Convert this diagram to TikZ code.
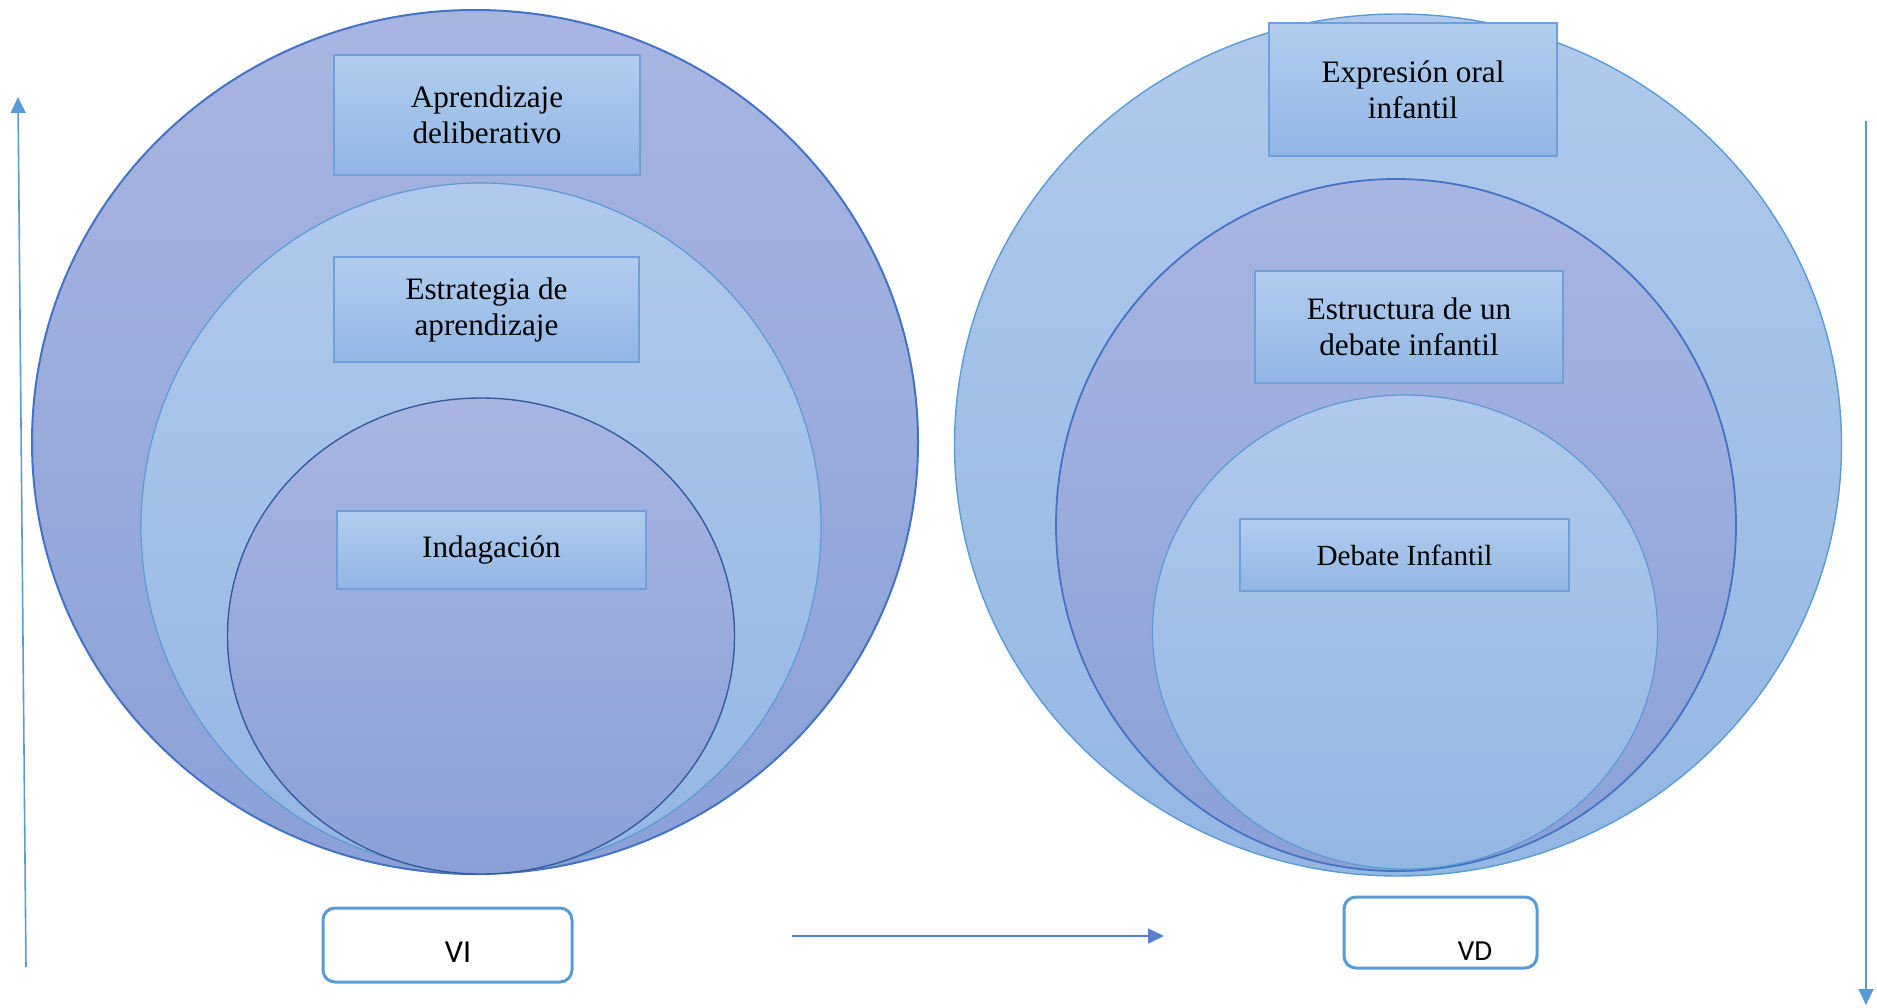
\documentclass[tikz,border=0pt]{standalone}
\usepackage{fontspec}
\setmainfont{Liberation Serif}
\newfontfamily\calfont{Carlito}
\usetikzlibrary{shapes.geometric,arrows.meta}
\definecolor{lavtop}{HTML}{A9B5E1}
\definecolor{lavbot}{HTML}{8AA0D7}
\definecolor{lbtop}{HTML}{B0C9EB}
\definecolor{lbbot}{HTML}{93B7E3}
\definecolor{boxtop}{HTML}{B2CDEE}
\definecolor{boxbot}{HTML}{91B6E5}
\definecolor{boxline}{HTML}{6FA0DA}
\definecolor{darkline}{HTML}{4472C4}
\definecolor{lightline}{HTML}{5B9BD5}
\tikzset{
  ring/.style={ellipse, inner sep=0pt},
  lav/.style={ring, top color=lavtop, bottom color=lavbot},
  lb/.style={ring, top color=lbtop, bottom color=lbbot},
  conceptbox/.style={rectangle, inner sep=0pt, top color=boxtop, bottom color=boxbot,
    draw=boxline, line width=0.8pt, align=center,
    font=\fontsize{15.6pt}{18pt}\selectfont},
  varbox/.style={rectangle, rounded corners=6pt, draw=lightline, line width=1.5pt, fill=white, inner sep=0pt},
  varlabel/.style={font=\calfont\fontsize{16pt}{18pt}\selectfont, inner sep=0pt},
  axis/.style={line width=0.8pt, -{Triangle[length=8pt,width=7.5pt]}}
}
\begin{document}
\begin{tikzpicture}[x=0.5pt,y=-0.5pt]
\useasboundingbox (0,0) rectangle (1877,1007);
% left set of circles
\node[lav, draw=darkline, line width=1pt, minimum width=886pt/2, minimum height=864pt/2] (lo) at (475,442) {};
\node[lb, draw=lightline, line width=0.6pt, minimum width=680pt/2, minimum height=688pt/2] (lm) at (481,527) {};
\node[lav, draw=darkline!80!black, line width=0.7pt, minimum width=507pt/2, minimum height=476pt/2] (li) at (481,636) {};
% right set of circles
\node[lb, draw=lightline, line width=0.7pt, minimum width=887pt/2, minimum height=862pt/2] (ro) at (1398,445) {};
\node[lav, draw=darkline, line width=0.9pt, minimum width=680pt/2, minimum height=692pt/2] (rm) at (1396,525) {};
\node[lb, draw=lightline, line width=0.6pt, minimum width=505pt/2, minimum height=474pt/2] (ri) at (1405,632) {};
% concept boxes
\node[conceptbox, minimum width=153pt, minimum height=60pt] (apr) at (487,115) {Aprendizaje\\deliberativo};
\node[conceptbox, minimum width=152.5pt, minimum height=52.5pt] (est) at (486.5,309.5) {Estrategia de\\aprendizaje};
\node[conceptbox, minimum width=154.5pt, minimum height=39pt] (ind) at (491.5,550) {Indagación};
\node[conceptbox, minimum width=144pt, minimum height=66.5pt] (exp) at (1413,89.5) {Expresión oral\\infantil};
\node[conceptbox, minimum width=154pt, minimum height=56pt] (estr) at (1409,327) {Estructura de un\\debate infantil};
\node[conceptbox, minimum width=164.5pt, minimum height=36pt, font=\fontsize{14.6pt}{17pt}\selectfont] (deb) at (1404.5,555) {Debate Infantil};
% variable boxes
\node[varbox, minimum width=124.5pt, minimum height=37pt] (vi) at (447.5,945) {};
\node[varlabel] (vitext) at (458,952) {VI};
\node[varbox, minimum width=96.5pt, minimum height=35.5pt] (vd) at (1440.5,932.5) {};
\node[varlabel, font=\calfont\fontsize{14.5pt}{17pt}\selectfont] (vdtext) at (1475,951) {VD};
% arrows
\coordinate (lb1) at (26,967);
\coordinate (lt1) at (18,97);
\coordinate (hs) at (792,936);
\coordinate (he) at (1164,936);
\coordinate (rt1) at (1866,121);
\coordinate (rb1) at (1866,1005);
\draw[axis, draw=lightline, fill=lightline] (lb1) -- (lt1);
\draw[axis, draw=darkline!90, fill=darkline] (hs) -- (he);
\draw[axis, draw=lightline, fill=lightline] (rt1) -- (rb1);
\end{tikzpicture}
\end{document}
